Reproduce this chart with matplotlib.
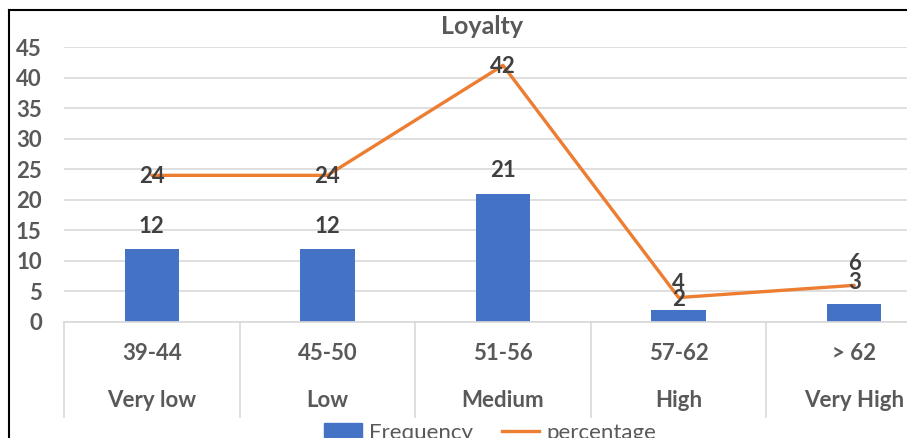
import matplotlib
matplotlib.use("Agg")
import matplotlib.pyplot as plt
from matplotlib.lines import Line2D
from matplotlib.patches import Patch

plt.rcParams['font.family'] = ['Lato', 'DejaVu Sans']

ranges = ["39-44", "45-50", "51-56", "57-62", "> 62"]
levels = ["Very low", "Low", "Medium", "High", "Very High"]
frequency = [12, 12, 21, 2, 3]
percentage = [24, 24, 42, 4, 6]

# label offsets in pixels (Excel nudged some of them)
freq_off = [22, 22, 23, 10, 21]
pct_off = [-1, -1, -1, 14, 22]

blue = "#4472C4"
orange = "#ED7D31"
grey = "#595959"
dark = "#404040"
fs = 16

fig = plt.figure(figsize=(9.07, 4.38), dpi=100)
ax = fig.add_axes([64 / 907, 116 / 438, 878 / 907, 275 / 438])

x = list(range(len(ranges)))
ax.bar(x, frequency, width=0.31, color=blue, zorder=2)
ax.plot(x, percentage, color=orange, lw=2.4, zorder=3, solid_capstyle='round')

for xi, v, o in zip(x, frequency, freq_off):
    ax.annotate(str(v), (xi, v), xytext=(0, o), textcoords='offset pixels',
                ha='center', va='center', fontsize=fs, fontweight='bold',
                color=dark, zorder=4)
for xi, v, o in zip(x, percentage, pct_off):
    ax.annotate(str(v), (xi, v), xytext=(0, o), textcoords='offset pixels',
                ha='center', va='center', fontsize=fs, fontweight='bold',
                color=dark, zorder=4)

ax.set_xlim(-0.5, 4.5)
ax.set_ylim(0, 45)
ax.set_yticks(range(0, 50, 5))
ax.yaxis.grid(True, color="#d9d9d9", lw=1.2)
ax.set_axisbelow(True)
ax.tick_params(axis='y', length=0, pad=16, labelsize=fs, labelcolor=grey)
for lab in ax.get_yticklabels():
    lab.set_fontweight('bold')
ax.set_xticks([])
for s in ["top", "right", "left"]:
    ax.spines[s].set_visible(False)
ax.spines["bottom"].set_color("#d9d9d9")
ax.spines["bottom"].set_linewidth(1.2)

# two-level category axis
tr = ax.get_xaxis_transform()
for xi, r, l in zip(x, ranges, levels):
    ax.text(xi, -0.116, r, transform=tr, ha='center', va='center',
            fontsize=fs, fontweight='bold', color=grey)
    ax.text(xi, -0.284, l, transform=tr, ha='center', va='center',
            fontsize=fs, fontweight='bold', color=grey)
for b in [i - 0.5 for i in range(len(ranges) + 1)]:
    ax.plot([b, b], [0, -0.345], transform=tr, color="#d9d9d9", lw=1.2,
            clip_on=False)

fig.text(482 / 907, 1 - 27 / 438, "Loyalty", ha='center', va='center',
         fontsize=18, fontweight='bold', color=grey)

handles = [Patch(color=blue), Line2D([0], [0], color=orange, lw=2.4)]
fig.legend(handles, ["Frequency", "percentage"], loc='center',
           bbox_to_anchor=(490 / 907, 1 - 433 / 438), ncol=2, frameon=False,
           fontsize=fs, labelcolor=grey, handlelength=1.7, columnspacing=1.3,
           handletextpad=0.3)

# screenshot frame
fig.add_artist(Line2D([9 / 907, 1], [1 - 10 / 438, 1 - 10 / 438], color='black', lw=1.5))
fig.add_artist(Line2D([9 / 907, 9 / 907], [0, 1 - 10 / 438], color='black', lw=1.5))

fig.savefig("out.png", dpi=100)
